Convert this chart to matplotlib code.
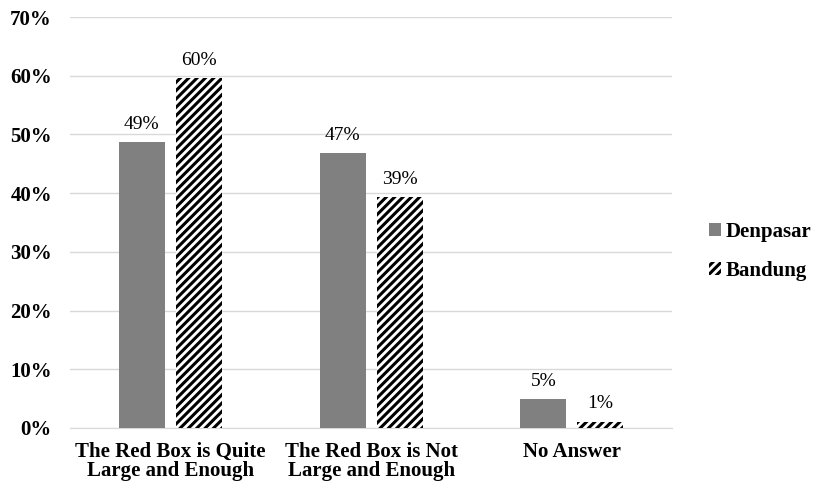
import matplotlib
matplotlib.use("Agg")
import matplotlib.pyplot as plt
import numpy as np

categories = ["The Red Box is Quite\nLarge and Enough", "The Red Box is Not\nLarge and Enough", "No Answer"]
denpasar = [48.7, 46.8, 4.9]
bandung = [59.6, 39.3, 1.1]
den_labels = ["49%", "47%", "5%"]
ban_labels = ["60%", "39%", "1%"]

plt.rcParams["font.family"] = ["Liberation Serif", "DejaVu Serif"]
plt.rcParams["hatch.linewidth"] = 2.2

fig = plt.figure(figsize=(8.14, 4.88), dpi=100)
ax = fig.add_axes([0.086, 0.123, 0.740, 0.842])

x = np.arange(len(categories))
w = 0.229
off = 0.142
ax.bar(x - off, denpasar, w, color="#808080", label="Denpasar", zorder=3)
ax.bar(x + off, bandung, w, color="white", edgecolor="black", hatch="////",
       linewidth=0, label="Bandung", zorder=3)

for i in range(len(categories)):
    ax.text(x[i] - off, denpasar[i] + 1.6, den_labels[i], ha="center", va="bottom", fontsize=14)
    ax.text(x[i] + off, bandung[i] + 1.6, ban_labels[i], ha="center", va="bottom", fontsize=14)

ax.set_xlim(-0.5, 2.5)
ax.set_ylim(0, 70)
ax.set_yticks(range(0, 71, 10))
ax.set_yticklabels([f"{v}%" for v in range(0, 71, 10)], fontsize=15, fontweight="bold")
ax.set_xticks(x)
ax.set_xticklabels(categories, fontsize=15, fontweight="bold", linespacing=0.95)
ax.tick_params(axis="y", length=0, pad=13)
ax.tick_params(axis="x", length=0, pad=10)
ax.grid(axis="y", color="#d9d9d9", linewidth=1, zorder=0)
for s in ["top", "right", "left"]:
    ax.spines[s].set_visible(False)
ax.spines["bottom"].set_color("#d9d9d9")

ax.legend(loc="center left", bbox_to_anchor=(1.03, 0.43), frameon=False,
          prop={"size": 15, "weight": "bold"}, handlelength=0.55, handleheight=0.55,
          handletextpad=0.25, labelspacing=0.9)

fig.savefig("out.png", dpi=100)
